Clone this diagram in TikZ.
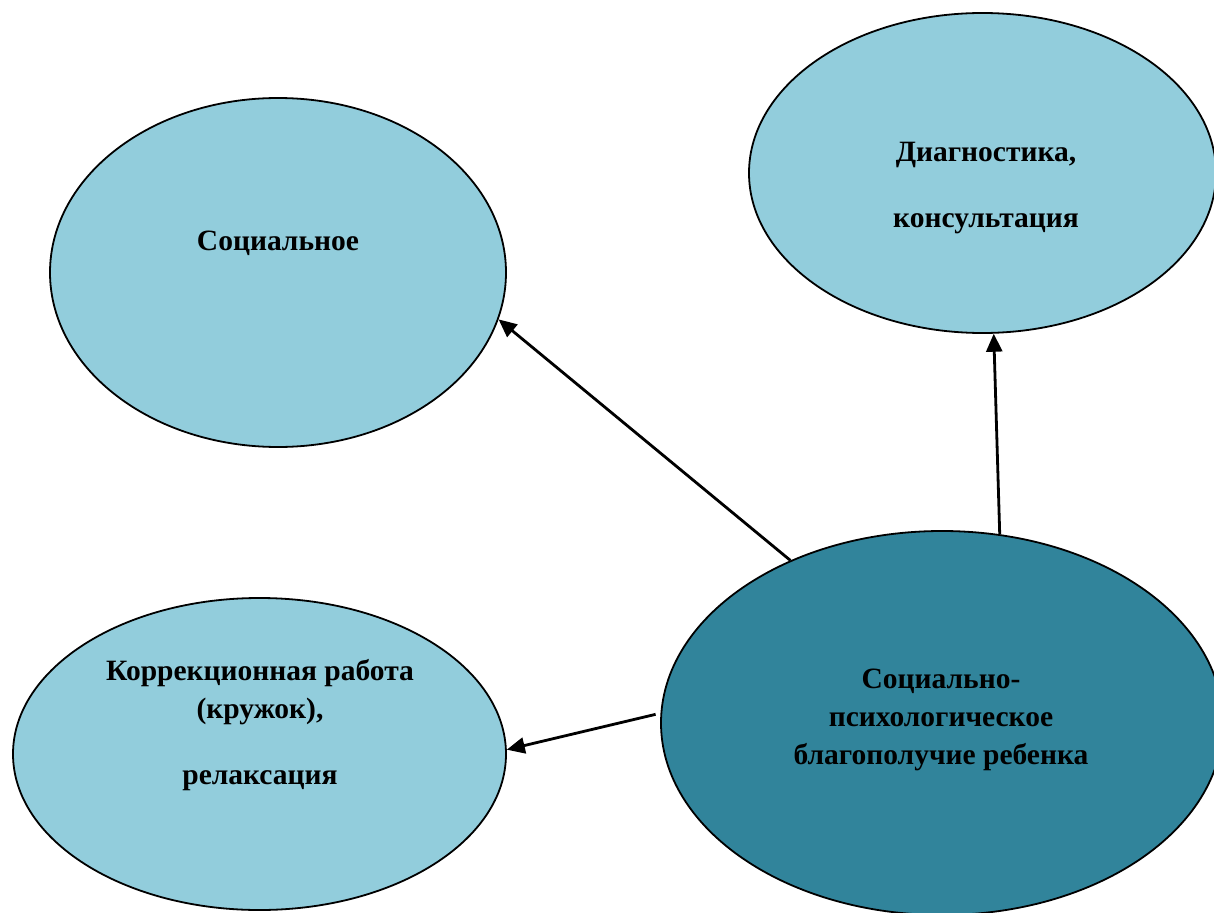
\documentclass[tikz,border=0pt]{standalone}
\usepackage{fontspec}
\setmainfont{Liberation Serif}
\usetikzlibrary{shapes.geometric,arrows.meta}
\definecolor{azulclaro}{HTML}{92CDDC}
\definecolor{azuloscuro}{HTML}{31849B}
\begin{document}
\begin{tikzpicture}[x=1pt,y=-1pt]
\tikzset{
    ovalo/.style={ellipse, draw=black, line width=1.8pt, inner sep=0pt},
    texto/.style={text centered, align=center, font=\fontsize{29.5}{38}\selectfont\bfseries},
    flecha/.style={line width=2.8pt, -{Triangle[length=18pt,width=16pt]}}
}
\useasboundingbox (0,0) rectangle (1214,912);
\node[ovalo, fill=azulclaro, minimum width=456pt, minimum height=349pt] (social) at (278,272.5) {};
\node[ovalo, fill=azulclaro, minimum width=467pt, minimum height=320pt] (diag) at (982.5,173) {};
\node[ovalo, fill=azulclaro, minimum width=493pt, minimum height=312pt] (korr) at (259.5,754) {};
\node[ovalo, fill=azuloscuro, minimum width=562pt, minimum height=384pt] (centro) at (942,723) {};
\node[texto] (tsocial) at (278,243) {Социальное};
\node[texto] (tdiag) at (986,188) {Диагностика,\\[28pt] консультация};
\node[texto] (tkorr) at (260,725) {Коррекционная работа\\ (кружок),\\[28pt] релаксация};
\node[texto] (tcentro) at (941,720) {Социально-\\ психологическое\\ благополучие ребенка};
\draw[flecha] (centro.133.2) -- (social.-12.7);
\draw[flecha] (centro.73) -- (diag.-86.6);
\draw[flecha, shorten <=5pt] (centro.178) -- (korr.1.4);
\end{tikzpicture}
\end{document}
